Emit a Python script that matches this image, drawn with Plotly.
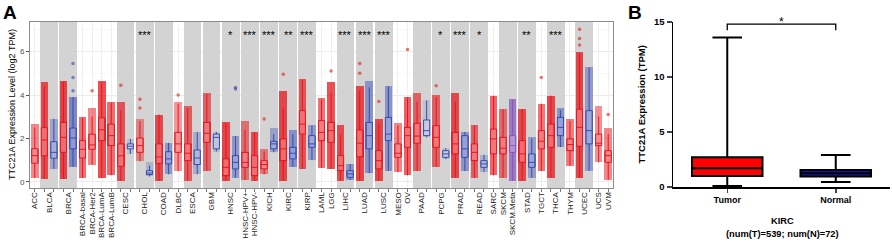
import math
import plotly.graph_objects as go

# ---------------- Panel A data (TIMER-style, log2 TPM) ----------------
cancers = ["ACC", "BLCA", "BRCA", "BRCA-basal", "BRCA-Her2", "BRCA-LumA", "BRCA-LumB", "CESC", "CHOL", "COAD",
           "DLBC", "ESCA", "GBM", "HNSC", "HNSC-HPV+", "HNSC-HPV-", "KICH", "KIRC", "KIRP", "LAML",
           "LGG", "LIHC", "LUAD", "LUSC", "MESO", "OV", "PAAD", "PCPG", "PRAD", "READ",
           "SARC", "SKCM", "SKCM.Meta", "STAD", "TGCT", "THCA", "THYM", "UCEC", "UCS", "UVM"]
metastatic = ["SKCM.Meta"]

t_n = [79, 408, 1093, 190, 82, 564, 217, 304, 36, 457, 48, 184, 153, 520, 97, 421, 66, 533, 290, 173,
       516, 371, 515, 501, 87, 303, 178, 179, 497, 166, 259, 103, 368, 415, 150, 501, 120, 545, 57, 80]
t_q1 = [0.86, 1.2, 1.36, 1.1, 1.5, 1.9, 1.67, 0.72, 1.36, 0.85, 1.36, 0.98, 1.82, 0.29, 0.67, 0.29, 0.6, 0.98, 2.2, 1.9,
        1.82, 0.52, 1.16, 0.6, 1.13, 1.59, 1.78, 1.59, 1.29, 0.98, 1.29, 1.29, 1.36, 0.9, 1.52, 1.59, 1.44, 1.64, 1.67, 0.9]
t_med = [1.21, 1.93, 2.05, 1.5, 1.7, 2.4, 2.13, 1.2, 1.67, 1.15, 1.75, 1.32, 2.24, 0.67, 0.9, 0.67, 0.8, 1.52, 2.66, 2.28,
         2.36, 0.75, 1.78, 0.98, 1.32, 2.13, 2.11, 2.05, 1.75, 1.36, 1.98, 1.55, 1.67, 1.29, 1.87, 2.13, 1.72, 2.51, 1.78, 1.21]
t_q3 = [1.53, 2.5, 2.74, 1.9, 2.2, 2.95, 2.66, 1.75, 2.02, 1.75, 2.28, 1.75, 2.74, 1.06, 1.36, 1.21, 0.98, 1.98, 3.28, 2.82,
        2.74, 1.21, 2.39, 1.44, 1.75, 2.51, 2.7, 2.59, 2.28, 1.75, 2.43, 2.05, 2.13, 1.9, 2.36, 2.66, 1.98, 3.35, 2.2, 1.44]
t_lo = [0.2, 0.15, 0.15, 0.2, 0.8, 0.2, 0.3, 0.05, 0.95, 0.05, 0.5, 0.05, 0.5, 0.05, 0.1, 0.05, 0.35, 0.05, 0.6, 0.65,
        0.6, 0.05, 0.05, 0.05, 0.45, 0.3, 0.5, 0.7, 0.2, 0.2, 0.3, 0.2, 0.05, 0.05, 0.5, 0.2, 0.75, 0.2, 0.9, 0.1]
t_hi = [2.5, 4.4, 4.6, 2.95, 3.0, 4.6, 3.65, 3.3, 2.8, 3.1, 3.6, 3.4, 4.05, 2.7, 2.4, 2.3, 1.4, 3.4, 4.7, 3.8,
        4.1, 2.2, 4.2, 2.7, 2.6, 3.9, 3.7, 3.9, 3.7, 2.6, 3.97, 3.35, 3.8, 3.35, 3.6, 3.97, 2.8, 5.9, 3.0, 2.2]
t_top = [2.66, 4.6, 4.65, 2.97, 3.4, 4.65, 3.66, 3.7, 2.9, 3.1, 3.7, 3.5, 4.07, 2.74, 2.8, 2.3, 1.5, 4.2, 4.73, 3.84,
         4.6, 2.6, 4.4, 2.9, 2.7, 3.9, 4.1, 4.0, 4.1, 2.6, 3.97, 3.35, 3.8, 3.35, 3.6, 3.97, 2.9, 6.0, 3.5, 2.5]

N = None
n_n = [N, 19, 112, N, N, N, N, 3, 9, 41, N, 11, 5, 44, N, N, 25, 72, 32, N,
       N, 50, 59, 51, N, N, 4, 3, 52, 10, N, N, N, 35, N, 59, N, 35, N, N]
n_q1 = [N, 1.09, 1.52, N, N, N, N, 1.52, 0.34, 0.83, N, 0.8, 1.52, 0.6, N, N, 1.52, 1.06, 1.59, N,
        N, 0.21, 1.52, 1.9, N, N, 2.13, 1.13, 1.13, 0.67, N, N, N, 0.67, N, 2.13, N, 1.75, N, N]
n_med = [N, 1.36, 2.02, N, N, N, N, 1.64, 0.41, 1.06, N, 1.1, 2.05, 0.9, N, N, 1.75, 1.32, 1.75, N,
         N, 0.37, 2.13, 2.2, N, N, 2.36, 1.29, 1.52, 0.83, N, N, N, 0.9, N, 2.51, N, 2.36, N, N]
n_q3 = [N, 1.85, 2.48, N, N, N, N, 1.75, 0.52, 1.39, N, 1.47, 2.2, 1.21, N, N, 1.87, 1.59, 2.13, N,
        N, 0.52, 2.74, 2.97, N, N, 2.85, 1.44, 2.13, 0.98, N, N, N, 1.29, N, 2.97, N, 3.28, N, N]
n_lo = [N, 0.6, 0.7, N, N, N, N, 1.29, 0.25, 0.35, N, 0.35, 1.4, 0.2, N, N, 1.36, 0.7, 1.0, N,
        N, 0.1, 0.4, 0.5, N, N, 2.05, 1.05, 0.5, 0.45, N, N, N, 0.2, N, 1.6, N, 0.52, N, N]
n_hi = [N, 2.9, 3.9, N, N, N, N, 1.98, 0.75, 1.8, N, 2.3, 2.3, 2.1, N, N, 2.2, 2.2, 2.6, N,
        N, 0.83, 4.35, 4.4, N, N, 3.75, 1.55, 2.3, 1.25, N, N, N, 2.0, N, 3.3, N, 5.27, N, N]
n_top = [N, 2.9, 3.9, N, N, N, N, 1.98, 0.9, 1.8, N, 2.3, 2.3, 2.1, N, N, 2.48, 2.4, 2.6, N,
         N, 0.83, 4.65, 4.43, N, N, 3.75, 1.55, 2.3, 1.25, N, N, N, 2.05, N, 3.4, N, 5.27, N, N]

# isolated outlying samples
out_cancer = ["BRCA", "BRCA", "BRCA", "HNSC", "HNSC", "KIRC", "OV", "LUAD", "LUAD", "LGG", "TGCT",
              "UCEC", "UCEC", "UCEC", "CESC", "CHOL", "CHOL", "KICH", "UVM", "LUSC", "BRCA-Her2", "PCPG", "DLBC"]
out_group = ["N", "N", "N", "N", "N", "T", "T", "T", "T", "T", "T",
             "T", "T", "T", "T", "T", "T", "T", "T", "T", "T", "T", "T"]
out_value = [5.45, 4.8, 4.2, 4.35, 4.28, 4.96, 6.1, 5.45, 5.0, 5.1, 4.8,
             7.03, 6.6, 6.3, 4.45, 3.8, 3.4, 2.9, 3.1, 3.7, 4.2, 4.43, 4.0]

# shaded comparison groups (first cancer, last cancer) and significance
gray_first = ["BLCA", "BRCA", "CESC", "CHOL", "COAD", "ESCA", "GBM", "HNSC", "HNSC-HPV+", "KICH", "KIRC", "KIRP",
              "LIHC", "LUAD", "LUSC", "PAAD", "PCPG", "PRAD", "READ", "SKCM", "STAD", "THCA", "UCEC"]
gray_last = ["BLCA", "BRCA", "CESC", "CHOL", "COAD", "ESCA", "GBM", "HNSC", "HNSC-HPV-", "KICH", "KIRC", "KIRP",
             "LIHC", "LUAD", "LUSC", "PAAD", "PCPG", "PRAD", "READ", "SKCM.Meta", "STAD", "THCA", "UCEC"]
star_group = ["CHOL", "HNSC", "HNSC-HPV+", "KICH", "KIRC", "KIRP", "LIHC", "LUAD", "LUSC", "PCPG", "PRAD", "READ", "STAD", "THCA"]
star_text = ["***", "*", "***", "***", "**", "***", "***", "***", "***", "*", "***", "*", "**", "***"]
a_yrange = [-0.28, 7.36]

# ---------------- Panel B data (KIRC, TPM) ----------------
b_groups = ["Tumor", "Normal"]
b_q1 = [1.0, 0.95]
b_med = [1.7, 1.25]
b_q3 = [2.7, 1.55]
b_lo = [0.1, 0.45]
b_hi = [13.6, 2.9]
b_fill = ["#ff0000", "#1616a8"]
b_sig = "*"
b_yrange = [0, 15]

FONT = "Liberation Sans, Arial, sans-serif"
RED = (230, 20, 26)
BLUE = (52, 72, 178)
PURPLE = (132, 82, 186)


def rgba(c, a):
    return "rgba(%d,%d,%d,%.3f)" % (c[0], c[1], c[2], a)


def dens(n):
    return min(0.95, max(0.16, 0.36 * math.log10(n) - 0.05))


# slot positions
t_pos, n_pos = [], []
p = 1
for i, c in enumerate(cancers):
    t_pos.append(p)
    p += 1
    if n_q1[i] is not None:
        n_pos.append(p)
        p += 1
    else:
        n_pos.append(None)
nslots = p - 1
label_pos = [(t_pos[i] + (n_pos[i] if n_pos[i] else t_pos[i])) / 2 for i in range(len(cancers))]
idx = {c: i for i, c in enumerate(cancers)}

recs = []  # (pos, color, n, q1, med, q3, lo, hi, top)
for i, c in enumerate(cancers):
    col = PURPLE if c in metastatic else RED
    recs.append((t_pos[i], col, t_n[i], t_q1[i], t_med[i], t_q3[i], t_lo[i], t_hi[i], t_top[i]))
    if n_pos[i] is not None:
        recs.append((n_pos[i], BLUE, n_n[i], n_q1[i], n_med[i], n_q3[i], n_lo[i], n_hi[i], n_top[i]))

fig = go.Figure()

# grey comparison bands (drawn as bars so they sit above the grid)
inset = 0.07
bx, bw = [], []
for f, l in zip(gray_first, gray_last):
    x0 = t_pos[idx[f]] - 0.5 + inset
    li = idx[l]
    x1 = (n_pos[li] if n_pos[li] else t_pos[li]) + 0.5 - inset
    bx.append((x0 + x1) / 2)
    bw.append(x1 - x0)
fig.add_trace(go.Bar(x=bx, width=bw, base=[a_yrange[0]] * len(bx), y=[a_yrange[1] - a_yrange[0]] * len(bx),
                     marker=dict(color="#d3d3d3", line_width=0), hoverinfo="skip", showlegend=False,
                     xaxis="x", yaxis="y"))

# point-cloud extent and dense core
fig.add_trace(go.Bar(x=[r[0] for r in recs], base=[r[6] for r in recs], y=[r[8] - r[6] for r in recs],
                     width=0.8, marker=dict(color=[rgba(r[1], dens(r[2]) * 0.8) for r in recs], line_width=0),
                     hoverinfo="skip", showlegend=False, xaxis="x", yaxis="y"))
fig.add_trace(go.Bar(x=[r[0] for r in recs], base=[r[3] for r in recs], y=[r[5] - r[3] for r in recs],
                     width=0.8, marker=dict(color=[rgba(r[1], dens(r[2]) * 0.85) for r in recs], line_width=0),
                     hoverinfo="skip", showlegend=False, xaxis="x", yaxis="y"))

# outliers
ox, oy, oc = [], [], []
for c, g, v in zip(out_cancer, out_group, out_value):
    i = idx[c]
    ox.append(t_pos[i] if g == "T" else n_pos[i])
    oy.append(v)
    oc.append(rgba(BLUE if g == "N" else (PURPLE if c in metastatic else RED), 0.6))
fig.add_trace(go.Scatter(x=ox, y=oy, mode="markers", marker=dict(size=3.5, color=oc, line_width=0),
                         hoverinfo="skip", showlegend=False, xaxis="x", yaxis="y"))

# boxes per colour
for col in (RED, BLUE, PURPLE):
    sub = [r for r in recs if r[1] == col]
    fig.add_trace(go.Box(x=[r[0] for r in sub], q1=[r[3] for r in sub], median=[r[4] for r in sub],
                         q3=[r[5] for r in sub], lowerfence=[r[6] for r in sub], upperfence=[r[7] for r in sub],
                         width=0.64, whiskerwidth=0, fillcolor="rgba(255,255,255,0.35)",
                         line=dict(color=rgba(col, 0.95), width=1), boxpoints=False,
                         hoverinfo="skip", showlegend=False, xaxis="x", yaxis="y"))

# panel B boxes
for g, q1, md, q3, lo, hi, fc in zip(b_groups, b_q1, b_med, b_q3, b_lo, b_hi, b_fill):
    fig.add_trace(go.Box(x=[g], q1=[q1], median=[md], q3=[q3], lowerfence=[lo], upperfence=[hi],
                         width=0.65, whiskerwidth=0.42, fillcolor=fc, line=dict(color="black", width=2),
                         boxpoints=False, hoverinfo="skip", showlegend=False, xaxis="x2", yaxis="y2"))

shapes = [dict(type="path", xref="x2", yref="y2",
               path="M 0,14.25 L 0,14.8 L 1,14.8 L 1,14.25", line=dict(color="black", width=1.3))]

annotations = []
for g, s in zip(star_group, star_text):
    i = idx[g]
    gl = gray_last[gray_first.index(g)]
    li = idx[gl]
    right = n_pos[li] if n_pos[li] else t_pos[li]
    annotations.append(dict(x=(t_pos[i] + right) / 2, y=6.78, xref="x", yref="y", text=s, showarrow=False,
                            font=dict(family=FONT, size=11, color="black"), xanchor="center", yanchor="middle"))


def pann(xpx, ypx, text, size, angle=0, color="black"):
    return dict(x=xpx / 892, y=(245 - ypx) / 245, xref="paper", yref="paper", text=text, textangle=angle,
                showarrow=False, xanchor="center", yanchor="middle",
                font=dict(family=FONT, size=size, color=color))


annotations += [
    dict(x=0.5, y=15.0, xref="x2", yref="y2", text=b_sig, showarrow=False, xanchor="center", yanchor="middle",
         font=dict(family=FONT, size=12, color="black")),
    pann(12, 105, "TTC21A Expression Level (log2 TPM)", 9, -90),
    pann(641, 104.5, "<b>TTC21A Expression (TPM)</b>", 9.5, -90),
    pann(782, 220.5, "<b>KIRC</b>", 9.3),
    pann(782, 233.5, "<b>(num(T)=539; num(N)=72)</b>", 9.3),
    pann(10, 12, "<b>A</b>", 19),
    pann(634.5, 12, "<b>B</b>", 19),
]

fig.update_layout(
    width=892, height=245, autosize=False,
    margin=dict(l=0, r=0, t=0, b=0, autoexpand=False),
    paper_bgcolor="white", plot_bgcolor="white",
    barmode="overlay", boxmode="overlay", bargap=0,
    showlegend=False,
    font=dict(family=FONT),
    shapes=shapes, annotations=annotations,
    xaxis=dict(domain=[30 / 892, 613 / 892], range=[0.5, nslots + 0.5], anchor="y", automargin=False,
               tickmode="array", tickvals=label_pos, ticktext=cancers, tickangle=-90, ticks="",
               tickfont=dict(family=FONT, size=8, color="#1a1a1a"),
               showgrid=False, zeroline=False, showline=True, mirror=True, linecolor="#8c8c8c", linewidth=1,
               minor=dict(tick0=1, dtick=1, ticks="outside", ticklen=3, tickcolor="#555555", tickwidth=0.8,
                          showgrid=True, gridcolor="#ebebeb", gridwidth=0.8)),
    yaxis=dict(domain=[57 / 245, 223 / 245], range=a_yrange, anchor="x", automargin=False,
               tickmode="array", tickvals=[0, 2, 4, 6], ticks="outside", ticklen=3, tickcolor="#555555",
               tickfont=dict(family=FONT, size=8, color="#4d4d4d"),
               showgrid=True, gridcolor="#ebebeb", gridwidth=1, zeroline=False,
               showline=True, mirror=True, linecolor="#8c8c8c", linewidth=1,
               minor=dict(tick0=0, dtick=1, showgrid=True, gridcolor="#f3f3f3", gridwidth=0.6)),
    xaxis2=dict(domain=[673 / 892, 890 / 892], anchor="y2", type="category", automargin=False,
                categoryorder="array", categoryarray=b_groups, range=[-0.5, 1.5],
                showline=True, linecolor="black", linewidth=1.5, ticks="outside", ticklen=4, tickwidth=1.5,
                tickfont=dict(family=FONT, size=9, color="black", weight="bold"),
                showgrid=False, zeroline=False),
    yaxis2=dict(domain=[58 / 245, 223 / 245], anchor="x2", range=b_yrange, tickmode="array", automargin=False,
                tickvals=[0, 5, 10, 15], showline=True, linecolor="black", linewidth=1.5,
                ticks="outside", ticklen=5, tickwidth=1.5,
                tickfont=dict(family=FONT, size=9.5, color="black", weight="bold"),
                showgrid=False, zeroline=False),
)

fig.write_html("out.html", config={"displayModeBar": False, "staticPlot": True},
               post_script="document.body.style.margin='0px';document.body.style.overflow='hidden';")
